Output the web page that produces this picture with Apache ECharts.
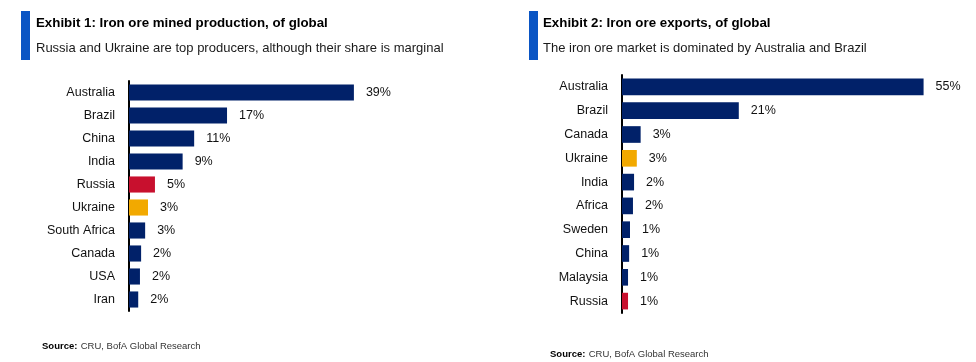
<!DOCTYPE html>
<html><head><meta charset="utf-8">
<script src="https://cdn.jsdelivr.net/npm/echarts@6/dist/echarts.min.js"></script>
<style>html,body{margin:0;padding:0;background:#fff}#c{width:976px;height:362px}</style>
</head><body><div id="c"></div>
<script>
const cats1 = ['Australia','Brazil','China','India','Russia','Ukraine','South Africa','Canada','USA','Iran'];
const vals1 = [39, 17, 11.3, 9.3, 4.5, 3.3, 2.8, 2.1, 1.9, 1.6];
const cats2 = ['Australia','Brazil','Canada','Ukraine','India','Africa','Sweden','China','Malaysia','Russia'];
const vals2 = [55, 21.3, 3.4, 2.7, 2.2, 2.0, 1.46, 1.3, 1.1, 1.1];
const title1 = 'Exhibit 1: Iron ore mined production, of global';
const sub1 = 'Russia and Ukraine are top producers, although their share is marginal';
const title2 = 'Exhibit 2: Iron ore exports, of global';
const sub2 = 'The iron ore market is dominated by Australia and Brazil';
const sourceText = 'CRU, BofA Global Research';

const NAVY = '#012169', RED = '#C8102E', ORANGE = '#F2A900';
function colorFor(name){ return name === 'Russia' ? RED : (name === 'Ukraine' ? ORANGE : NAVY); }
const F = "'Liberation Sans', Arial, sans-serif";

const chart = echarts.init(document.getElementById('c'), null, {renderer:'canvas'});
function mkData(cats, vals){ return vals.map((v,i)=>({value:v, itemStyle:{color:colorFor(cats[i])}})); }
const yAx = (cats, gi) => ({
  type:'category', gridIndex:gi, data:cats, inverse:true,
  axisLine:{show:true, lineStyle:{color:'#000', width:2}},
  axisTick:{show:false},
  axisLabel:{color:'#111', fontFamily:F, fontSize:12.5, margin:14},
  splitLine:{show:false}
});
const xAx = (gi) => ({type:'value', gridIndex:gi, min:0, max:60, show:false, splitLine:{show:false}});
const lbl = {show:true, position:'right', distance:12, color:'#111', fontFamily:F, fontSize:12.5,
  formatter: p => Math.round(p.value) + '%'};

chart.setOption({
  animation:false,
  grid:[
    {left:129, top:81, width:346, height:230, containLabel:false},
    {left:622, top:75, width:329, height:238, containLabel:false}
  ],
  xAxis:[xAx(0), xAx(1)],
  yAxis:[yAx(cats1,0), yAx(cats2,1)],
  series:[
    {type:'bar', xAxisIndex:0, yAxisIndex:0, data:mkData(cats1, vals1), barWidth:'70%', label:lbl},
    {type:'bar', xAxisIndex:1, yAxisIndex:1, data:mkData(cats2, vals2), barWidth:'70%', label:lbl}
  ],
  graphic:[
    {type:'rect', shape:{x:21, y:11, width:9, height:49}, style:{fill:'#0A55C4'}},
    {type:'rect', shape:{x:529, y:11, width:9, height:49}, style:{fill:'#0A55C4'}},
    {type:'text', left:36, top:17, style:{text:title1, font:"bold 13.3px "+F, fill:'#000'}},
    {type:'text', left:36, top:42, style:{text:sub1, font:"13px "+F, fill:'#1a1a1a'}},
    {type:'text', left:543, top:17, style:{text:title2, font:"bold 13.3px "+F, fill:'#000'}},
    {type:'text', left:543, top:42, style:{text:sub2, font:"13px "+F, fill:'#1a1a1a'}},
    {type:'text', left:42, top:340, style:{rich:{b:{font:"bold 9.5px "+F, fill:'#000'}, n:{font:"9.5px "+F, fill:'#333'}}, text:'{b|Source:} {n|'+sourceText+'}'}},
    {type:'text', left:550, top:348, style:{rich:{b:{font:"bold 9.5px "+F, fill:'#000'}, n:{font:"9.5px "+F, fill:'#333'}}, text:'{b|Source:} {n|'+sourceText+'}'}}
  ]
});
</script></body></html>
